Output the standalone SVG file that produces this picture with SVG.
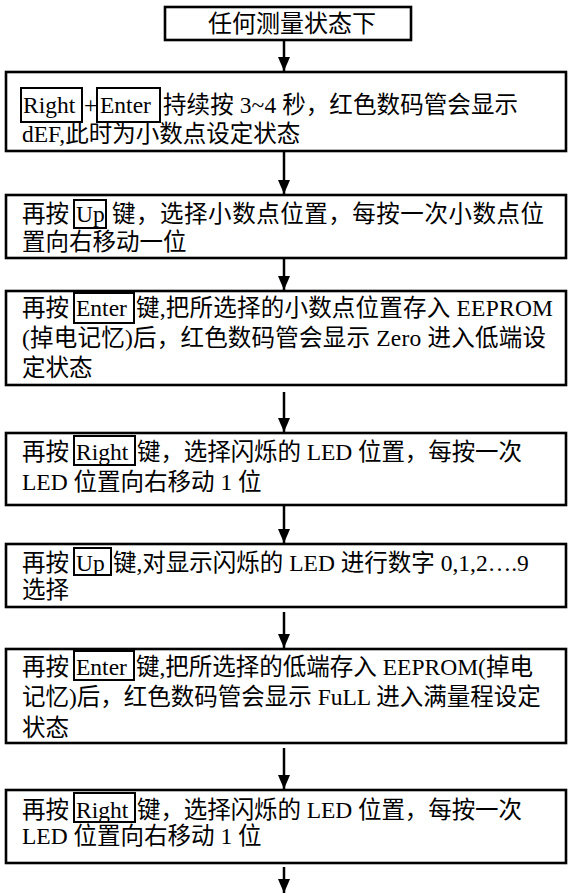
<svg xmlns="http://www.w3.org/2000/svg" width="569" height="896" viewBox="0 0 569 896">
<defs>
<marker id="ah" markerUnits="userSpaceOnUse" markerWidth="14" markerHeight="12" refX="14" refY="6" orient="auto">
<path d="M0,0 L14,6 L0,12 z" fill="#000"/>
</marker>
<style>
.box{fill:#fff;stroke:#000;stroke-width:2.6}
.key{fill:none;stroke:#000;stroke-width:2}
.t{font-family:"Liberation Serif","Noto Sans CJK SC",serif;font-size:23.5px;fill:#000}
.con{stroke:#000;stroke-width:2.5;fill:none;marker-end:url(#ah)}
</style>
</defs>
<rect width="569" height="896" fill="#fff"/>
<g id="connectors">
<line class="con" x1="284" y1="40" x2="284" y2="71"/>
<line class="con" x1="284" y1="151" x2="284" y2="194"/>
<line class="con" x1="284" y1="258" x2="284" y2="290"/>
<line class="con" x1="284" y1="392" x2="284" y2="432"/>
<line class="con" x1="284" y1="505" x2="284" y2="543"/>
<line class="con" x1="284" y1="612" x2="284" y2="648"/>
<line class="con" x1="284" y1="748" x2="284" y2="789"/>
<line class="con" x1="284" y1="867" x2="284" y2="893"/>
</g>
<g id="n0">
<rect class="box" x="165" y="7" width="246" height="33"/>
<text class="t" x="292" y="32" text-anchor="middle" style="font-size:24px">任何测量状态下</text>
</g>
<g id="n1">
<rect class="box" x="6" y="72" width="560" height="79"/>
<rect class="key" x="21" y="88" width="61" height="34"/>
<text class="t" x="23" y="113">Right</text>
<text class="t" x="84" y="113">+</text>
<rect class="key" x="97" y="88" width="63" height="34"/>
<text class="t" x="100" y="113">Enter</text>
<text class="t" x="163" y="113" textLength="355" lengthAdjust="spacing">持续按 3~4 秒，红色数码管会显示</text>
<text class="t" x="22" y="142">dEF,此时为小数点设定状态</text>
</g>
<g id="n2">
<rect class="box" x="6" y="195" width="560" height="63"/>
<text class="t" x="22" y="222">再按</text>
<rect class="key" x="74" y="200" width="32" height="28"/>
<text class="t" x="76" y="222">Up</text>
<text class="t" x="112" y="222" textLength="432" lengthAdjust="spacing">键，选择小数点位置，每按一次小数点位</text>
<text class="t" x="22" y="250">置向右移动一位</text>
</g>
<g id="n3">
<rect class="box" x="6" y="291" width="560" height="94"/>
<text class="t" x="22" y="316">再按</text>
<rect class="key" x="74" y="293" width="60" height="30"/>
<text class="t" x="76" y="316">Enter</text>
<text class="t" x="136" y="316" textLength="417" lengthAdjust="spacing">键,把所选择的小数点位置存入 EEPROM</text>
<text class="t" x="22" y="346" textLength="524" lengthAdjust="spacing">(掉电记忆)后，红色数码管会显示 Zero 进入低端设</text>
<text class="t" x="22" y="376">定状态</text>
</g>
<g id="n4">
<rect class="box" x="6" y="433" width="560" height="72"/>
<text class="t" x="22" y="460">再按</text>
<rect class="key" x="74" y="436" width="61" height="29"/>
<text class="t" x="76" y="460">Right</text>
<text class="t" x="137" y="460" textLength="385" lengthAdjust="spacing">键，选择闪烁的 LED 位置，每按一次</text>
<text class="t" x="22" y="490">LED 位置向右移动 1 位</text>
</g>
<g id="n5">
<rect class="box" x="6" y="544" width="560" height="63"/>
<text class="t" x="22" y="571">再按</text>
<rect class="key" x="74" y="548" width="37" height="27"/>
<text class="t" x="76" y="571">Up</text>
<text class="t" x="113" y="571">键,对显示闪烁的 LED 进行数字 0,1,2….9</text>
<text class="t" x="22" y="598">选择</text>
</g>
<g id="n6">
<rect class="box" x="6" y="649" width="560" height="94"/>
<text class="t" x="22" y="675">再按</text>
<rect class="key" x="74" y="651" width="60" height="29"/>
<text class="t" x="76" y="675">Enter</text>
<text class="t" x="136" y="675">键,把所选择的低端存入 EEPROM(掉电</text>
<text class="t" x="22" y="705">记忆)后，红色数码管会显示 FuLL 进入满量程设定</text>
<text class="t" x="22" y="736">状态</text>
</g>
<g id="n7">
<rect class="box" x="6" y="790" width="560" height="73"/>
<text class="t" x="22" y="818">再按</text>
<rect class="key" x="74" y="793" width="61" height="29"/>
<text class="t" x="76" y="818">Right</text>
<text class="t" x="137" y="818" textLength="385" lengthAdjust="spacing">键，选择闪烁的 LED 位置，每按一次</text>
<text class="t" x="22" y="844">LED 位置向右移动 1 位</text>
</g>
</svg>
